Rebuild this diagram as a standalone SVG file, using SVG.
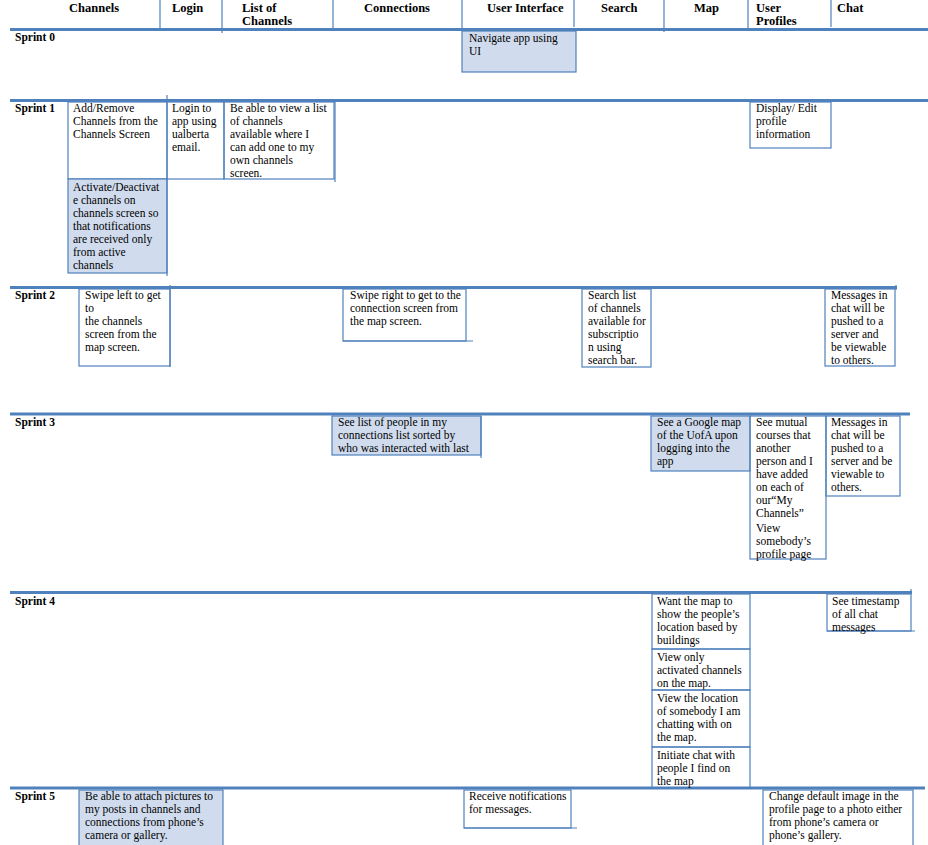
<svg xmlns="http://www.w3.org/2000/svg" width="928" height="845" viewBox="0 0 928 845">
<style>
.bg{fill:#ffffff}
.rule{stroke:#4f81bd;stroke-width:3;fill:none}
.sep{stroke:#4f81bd;stroke-width:1.2;fill:none}
.box{fill:none;stroke:#4f81bd;stroke-width:1.2}
.hi{fill:#d0dcee;stroke:#4f81bd;stroke-width:1.2}
.t{font-family:"Liberation Serif","Times New Roman",serif;font-size:11.5px;fill:#000}
.h{font-family:"Liberation Serif","Times New Roman",serif;font-size:12.5px;font-weight:bold;fill:#000}
.s{font-family:"Liberation Serif","Times New Roman",serif;font-size:11.5px;font-weight:bold;fill:#000}
</style>
<rect class="bg" x="0" y="0" width="928" height="845"/>

<g id="connectors">
  <!-- header separators -->
  <line class="sep" x1="160" y1="0" x2="160" y2="28"/>
  <line class="sep" x1="222" y1="0" x2="222" y2="33"/>
  <line class="sep" x1="333" y1="0" x2="333" y2="28"/>
  <line class="sep" x1="462" y1="0" x2="462" y2="30"/>
  <line class="sep" x1="574" y1="0" x2="574" y2="27"/>
  <line class="sep" x1="664" y1="0" x2="664" y2="32"/>
  <line class="sep" x1="748" y1="0" x2="748" y2="30"/>
  <line class="sep" x1="831" y1="0" x2="831" y2="27"/>
  <!-- sprint rules -->
  <line class="rule" x1="10" y1="29.5" x2="928" y2="29.5"/>
  <line class="rule" x1="10" y1="100.5" x2="928" y2="100.5"/>
  <line class="rule" x1="10" y1="287.5" x2="897" y2="287.5"/>
  <line class="rule" x1="10" y1="414" x2="910" y2="414"/>
  <line class="rule" x1="10" y1="592.5" x2="912" y2="592.5"/>
  <line class="rule" x1="10" y1="788" x2="925" y2="788"/>
  <!-- small ticks -->
  <line class="sep" x1="167" y1="95" x2="167" y2="100"/>
  <line class="sep" x1="896" y1="285" x2="896" y2="290"/>
  <line class="sep" x1="911" y1="589" x2="911" y2="594"/>
</g>

<g id="header">
  <text class="h" x="69" y="11.5">Channels</text>
  <text class="h" x="172" y="11.5">Login</text>
  <text class="h" x="242" y="11.5">List of</text>
  <text class="h" x="242" y="25">Channels</text>
  <text class="h" x="364" y="11.5">Connections</text>
  <text class="h" x="487" y="11.5">User Interface</text>
  <text class="h" x="601" y="11.5">Search</text>
  <text class="h" x="694" y="11.5">Map</text>
  <text class="h" x="756" y="11.5">User</text>
  <text class="h" x="756" y="25">Profiles</text>
  <text class="h" x="837" y="11.5">Chat</text>
</g>

<g id="sprint-labels">
  <text class="s" x="15" y="41">Sprint 0</text>
  <text class="s" x="15" y="112">Sprint 1</text>
  <text class="s" x="15" y="299">Sprint 2</text>
  <text class="s" x="15" y="426">Sprint 3</text>
  <text class="s" x="15" y="605">Sprint 4</text>
  <text class="s" x="15" y="800">Sprint 5</text>
</g>

<!-- Sprint 0 -->
<g id="s0-navigate">
  <rect class="hi" x="462" y="31" width="114" height="41"/>
  <text class="t" x="469" y="42"><tspan x="469">Navigate app using</tspan><tspan x="469" dy="13">UI</tspan></text>
</g>

<!-- Sprint 1 -->
<g id="s1-addremove">
  <rect class="box" x="68" y="102" width="99" height="77"/>
  <text class="t" y="112"><tspan x="73">Add/Remove</tspan><tspan x="73" dy="13">Channels from the</tspan><tspan x="73" dy="13">Channels Screen</tspan></text>
</g>
<g id="s1-login">
  <rect class="box" x="167" y="102" width="57" height="77"/>
  <text class="t" y="112"><tspan x="172">Login to</tspan><tspan x="172" dy="13">app using</tspan><tspan x="172" dy="13">ualberta</tspan><tspan x="172" dy="13">email.</tspan></text>
</g>
<g id="s1-list">
  <rect class="box" x="224" y="102" width="110" height="77"/>
  <line class="sep" x1="335" y1="100" x2="335" y2="182"/>
  <text class="t" y="112"><tspan x="230">Be able to view a list</tspan><tspan x="230" dy="13">of channels</tspan><tspan x="230" dy="13">available where I</tspan><tspan x="230" dy="13">can add one to my</tspan><tspan x="230" dy="13">own channels</tspan><tspan x="230" dy="13">screen.</tspan></text>
</g>
<g id="s1-activate">
  <rect class="hi" x="68" y="179" width="99" height="94"/>
  <line class="sep" x1="167" y1="179" x2="167" y2="276"/>
  <text class="t" y="191"><tspan x="73">Activate/Deactivat</tspan><tspan x="73" dy="13">e channels on</tspan><tspan x="73" dy="13">channels screen so</tspan><tspan x="73" dy="13">that notifications</tspan><tspan x="73" dy="13">are received only</tspan><tspan x="73" dy="13">from active</tspan><tspan x="73" dy="13">channels</tspan></text>
</g>
<g id="s1-profile">
  <rect class="box" x="750" y="102" width="81" height="46"/>
  <text class="t" y="112"><tspan x="756">Display/ Edit</tspan><tspan x="756" dy="13">profile</tspan><tspan x="756" dy="13">information</tspan></text>
</g>

<!-- Sprint 2 -->
<g id="s2-swipeleft">
  <rect class="box" x="79" y="289" width="91" height="77"/>
  <line class="sep" x1="170" y1="285" x2="170" y2="367"/>
  <text class="t" y="299"><tspan x="85">Swipe left to get</tspan><tspan x="85" dy="13">to</tspan><tspan x="85" dy="13">the channels</tspan><tspan x="85" dy="13">screen from the</tspan><tspan x="85" dy="13">map screen.</tspan></text>
</g>
<g id="s2-swiperight">
  <rect class="box" x="343" y="289" width="123" height="52"/>
  <line class="sep" x1="343" y1="341" x2="473" y2="341"/>
  <text class="t" y="299"><tspan x="350">Swipe right to get to the</tspan><tspan x="350" dy="13">connection screen from</tspan><tspan x="350" dy="13">the map screen.</tspan></text>
</g>
<g id="s2-search">
  <rect class="box" x="582" y="289" width="69" height="78"/>
  <text class="t" y="299"><tspan x="588">Search list</tspan><tspan x="588" dy="13">of channels</tspan><tspan x="588" dy="13">available for</tspan><tspan x="588" dy="13">subscriptio</tspan><tspan x="588" dy="13">n using</tspan><tspan x="588" dy="13">search bar.</tspan></text>
</g>
<g id="s2-chat">
  <rect class="box" x="825" y="289" width="70" height="77"/>
  <text class="t" y="299"><tspan x="831">Messages in</tspan><tspan x="831" dy="13">chat will be</tspan><tspan x="831" dy="13">pushed to a</tspan><tspan x="831" dy="13">server and</tspan><tspan x="831" dy="13">be viewable</tspan><tspan x="831" dy="13">to others.</tspan></text>
</g>

<!-- Sprint 3 -->
<g id="s3-connections">
  <rect class="hi" x="332" y="416" width="149" height="39"/>
  <line class="sep" x1="481" y1="416" x2="481" y2="458"/>
  <text class="t" y="426"><tspan x="338">See list of people in my</tspan><tspan x="338" dy="13">connections list sorted by</tspan><tspan x="338" dy="13">who was interacted with last</tspan></text>
</g>
<g id="s3-map">
  <rect class="hi" x="651" y="416" width="99" height="55"/>
  <text class="t" y="426"><tspan x="657">See a Google map</tspan><tspan x="657" dy="13">of the UofA upon</tspan><tspan x="657" dy="13">logging into the</tspan><tspan x="657" dy="13">app</tspan></text>
</g>
<g id="s3-profiles">
  <rect class="box" x="750" y="416" width="76" height="143"/>
  <text class="t" y="426"><tspan x="756">See mutual</tspan><tspan x="756" dy="13">courses that</tspan><tspan x="756" dy="13">another</tspan><tspan x="756" dy="13">person and I</tspan><tspan x="756" dy="13">have added</tspan><tspan x="756" dy="13">on each of</tspan><tspan x="756" dy="13">our“My</tspan><tspan x="756" dy="13">Channels”</tspan><tspan x="756" dy="15">View</tspan><tspan x="756" dy="13">somebody’s</tspan><tspan x="756" dy="13">profile page</tspan></text>
</g>
<g id="s3-chat">
  <rect class="box" x="826" y="416" width="74" height="80"/>
  <text class="t" y="426"><tspan x="831">Messages in</tspan><tspan x="831" dy="13">chat will be</tspan><tspan x="831" dy="13">pushed to a</tspan><tspan x="831" dy="13">server and be</tspan><tspan x="831" dy="13">viewable to</tspan><tspan x="831" dy="13">others.</tspan></text>
</g>

<!-- Sprint 4 -->
<g id="s4-map1">
  <rect class="box" x="652" y="594" width="98" height="55"/>
  <text class="t" y="605"><tspan x="657">Want the map to</tspan><tspan x="657" dy="13">show the people’s</tspan><tspan x="657" dy="13">location based by</tspan><tspan x="657" dy="13">buildings</tspan></text>
</g>
<g id="s4-map2">
  <rect class="box" x="652" y="649" width="98" height="41"/>
  <text class="t" y="661"><tspan x="657">View only</tspan><tspan x="657" dy="13">activated channels</tspan><tspan x="657" dy="13">on the map.</tspan></text>
</g>
<g id="s4-map3">
  <rect class="box" x="652" y="690" width="98" height="57"/>
  <text class="t" y="702"><tspan x="657">View the location</tspan><tspan x="657" dy="13">of somebody I am</tspan><tspan x="657" dy="13">chatting with on</tspan><tspan x="657" dy="13">the map.</tspan></text>
</g>
<g id="s4-map4">
  <rect class="box" x="652" y="747" width="98" height="41"/>
  <text class="t" y="759"><tspan x="657">Initiate chat with</tspan><tspan x="657" dy="13">people I find on</tspan><tspan x="657" dy="13">the map</tspan></text>
</g>
<g id="s4-chat">
  <rect class="box" x="827" y="594" width="84" height="37"/>
  <line class="sep" x1="827" y1="631" x2="915" y2="631"/>
  <text class="t" y="605"><tspan x="832">See timestamp</tspan><tspan x="832" dy="13">of all chat</tspan><tspan x="832" dy="13">messages</tspan></text>
</g>

<!-- Sprint 5 -->
<g id="s5-channels">
  <rect class="hi" x="79" y="790" width="144" height="60"/>
  <text class="t" y="800"><tspan x="85">Be able to attach pictures to</tspan><tspan x="85" dy="13">my posts in channels and</tspan><tspan x="85" dy="13">connections from phone’s</tspan><tspan x="85" dy="13">camera or gallery.</tspan></text>
</g>
<g id="s5-ui">
  <rect class="box" x="464" y="790" width="107" height="38"/>
  <line class="sep" x1="464" y1="828" x2="577" y2="828"/>
  <text class="t" y="800"><tspan x="469">Receive notifications</tspan><tspan x="469" dy="13">for messages.</tspan></text>
</g>
<g id="s5-profiles">
  <rect class="box" x="763" y="790" width="150" height="60"/>
  <text class="t" y="800"><tspan x="769">Change default image in the</tspan><tspan x="769" dy="13">profile page to a photo either</tspan><tspan x="769" dy="13">from phone’s camera or</tspan><tspan x="769" dy="13">phone’s gallery.</tspan></text>
</g>
</svg>
